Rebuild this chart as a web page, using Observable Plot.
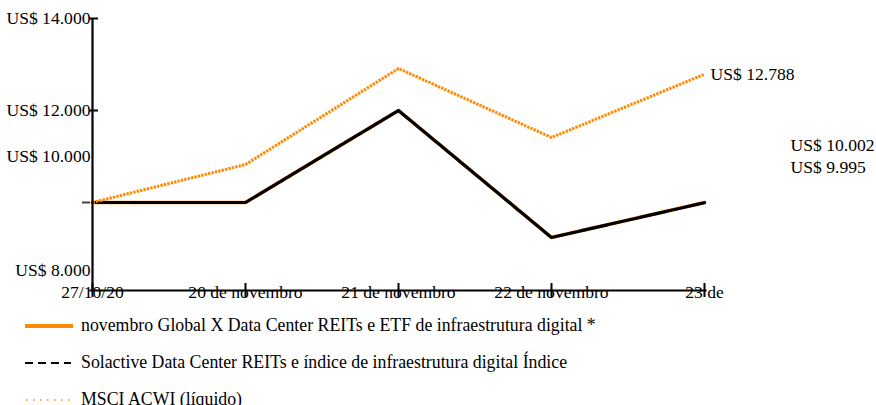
<!DOCTYPE html>
<html>
<head>
<meta charset="utf-8">
<script src="https://cdn.jsdelivr.net/npm/d3@7"></script>
<script src="https://cdn.jsdelivr.net/npm/@observablehq/plot@0.6"></script>
<style>
  body { margin: 0; background: #fff; font-family: "Liberation Serif", serif; }
  #chart svg { display: block; overflow: visible; }
  .legend { margin-top: 2px; font-size: 17.8px; color: #000; }
  .legend .row { display: flex; align-items: center; height: 37px; padding-left: 25px; }
  .legend svg { width: 50px; height: 10px; margin-right: 6px; flex: none; }
</style>
</head>
<body>
<div id="chart"></div>
<div class="legend" id="legend"></div>
<script>
const dates = ["27/10/20", "20 de novembro", "21 de novembro", "22 de novembro", "23 de"];
const etfValues = [10000, 10000, 12000, 9239, 10002];
const indexValues = [10000, 10000, 12000, 9239, 9995];
const msciValues = [10000, 10826, 12913, 11413, 12788];
const seriesNames = [
  "novembro Global X Data Center REITs e ETF de infraestrutura digital *",
  "Solactive Data Center REITs e índice de infraestrutura digital Índice",
  "MSCI ACWI (líquido)"
];
const yTicksUpper = [12000, 14000];
const yTick10 = [10000];
const yTick8 = [8000];

const orange = "#ff8a00";
const locale = d3.formatLocale({decimal: ",", thousands: ".", grouping: [3], currency: ["US$ ", ""]});
const fmt = locale.format("$,.0f");
const blank = () => "";

const toRows = (vals, name) => vals.map((v, i) => ({date: dates[i], value: v, series: name}));
const etf = toRows(etfValues, seriesNames[0]);
const idx = toRows(indexValues, seriesNames[1]);
const msci = toRows(msciValues, seriesNames[2]);

const last = dates.length - 1;
const font = {fontFamily: "Liberation Serif", fontSize: 17.6, fill: "#000"};

const chart = Plot.plot({
  width: 876,
  height: 305,
  marginLeft: 90,
  marginRight: 171,
  marginTop: 18,
  marginBottom: 15,
  style: {fontFamily: "Liberation Serif", fontSize: "17.6px", color: "#000", background: "#fff"},
  x: {type: "point", domain: dates, padding: 0, axis: null},
  y: {domain: [8000, 14000], range: [294, 18], axis: null},
  marks: [
    Plot.line(etf, {x: "date", y: "value", stroke: orange, strokeWidth: 3.5}),
    Plot.line(idx, {x: "date", y: "value", stroke: "#000", strokeWidth: 3.2, strokeDasharray: "8,1.2"}),
    Plot.line(msci, {x: "date", y: "value", stroke: orange, strokeWidth: 3, strokeLinecap: "butt", strokeDasharray: "2.4,1.1"}),
    Plot.ruleX([dates[0]], {stroke: "#000", strokeWidth: 2.2}),
    Plot.frame({anchor: "bottom", stroke: "#000", strokeWidth: 2.2}),
    Plot.axisX({tickSize: 14, dy: -7, stroke: "#000", strokeWidth: 2, tickFormat: blank, label: null}),
    Plot.axisX({tickSize: 0, tickPadding: 0, lineAnchor: "middle", dy: 2, label: null, ...font}),
    Plot.axisY({ticks: yTicksUpper, tickSize: 9, dx: 8, stroke: "#000", strokeWidth: 2, tickFormat: blank, label: null}),
    Plot.axisY({ticks: yTick10, tickSize: 8, stroke: "#444", strokeWidth: 2, tickFormat: blank, label: null}),
    Plot.axisY({ticks: yTicksUpper, tickSize: 0, tickPadding: 0, tickFormat: fmt, label: null, ...font}),
    Plot.axisY({ticks: yTick10, tickSize: 0, tickPadding: 0, dy: -46, tickFormat: fmt, label: null, ...font}),
    Plot.axisY({ticks: yTick8, tickSize: 0, tickPadding: 0, dy: -24, tickFormat: fmt, label: null, ...font}),
    Plot.text([msci[last]], {x: "date", y: "value", text: d => fmt(d.value), textAnchor: "start", dx: 6, ...font}),
    Plot.text([etf[last]], {x: "date", y: "value", text: d => fmt(d.value), textAnchor: "start", dx: 86, dy: -57, ...font}),
    Plot.text([idx[last]], {x: "date", y: "value", text: d => fmt(d.value), textAnchor: "start", dx: 86, dy: -35, ...font})
  ]
});
document.getElementById("chart").appendChild(chart);

const legendStyles = [
  `<line x1="0" x2="48" y1="5" y2="5" stroke="${orange}" stroke-width="4"/>`,
  `<line x1="0" x2="46" y1="5" y2="5" stroke="#000" stroke-width="2" stroke-dasharray="8,5"/>`,
  `<line x1="1" x2="48" y1="5" y2="5" stroke="${orange}" stroke-width="1.6" stroke-dasharray="1.5,5.5"/>`
];
const legend = document.getElementById("legend");
seriesNames.forEach((name, i) => {
  const row = document.createElement("div");
  row.className = "row";
  row.innerHTML = `<svg viewBox="0 0 50 10">${legendStyles[i]}</svg><span>${name}</span>`;
  legend.appendChild(row);
});
</script>
</body>
</html>
